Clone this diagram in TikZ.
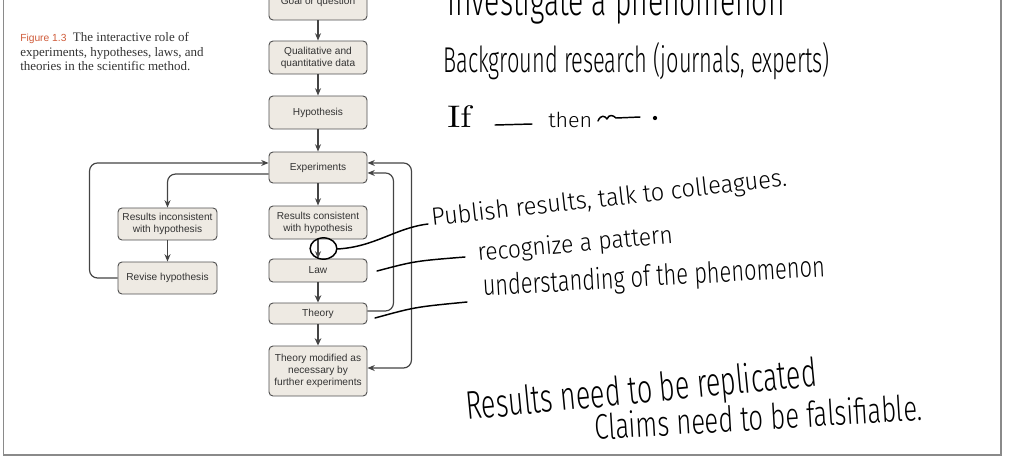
\documentclass[tikz,border=0pt]{standalone}
\usepackage{fontspec}
\setmainfont{Liberation Serif}
\setsansfont{Liberation Sans}
\IfFontExistsTF{Fira Sans Light}{\newfontfamily\handfont{Fira Sans Light}}{\newfontfamily\handfont{Liberation Sans}}
\IfFontExistsTF{Latin Modern Roman}{\newfontfamily\handserif{Latin Modern Roman}}{\newfontfamily\handserif{Liberation Serif}}
\usetikzlibrary{arrows.meta}
\definecolor{boxfill}{HTML}{EEEAE3}
\definecolor{boxdraw}{HTML}{505050}
\definecolor{linecol}{HTML}{444444}
\definecolor{figred}{HTML}{CF5B3A}
\definecolor{framecol}{HTML}{8A8A8A}
\definecolor{boxtext}{HTML}{333333}
\newcommand\hw[3]{\resizebox{#1pt}{#2pt}{\handfont #3}}
\begin{document}
\begin{tikzpicture}[x=0.75pt,y=-0.75pt,
  box/.style={draw=boxdraw, fill=boxfill, rounded corners=3pt, line width=0.7pt,
    minimum width=73.5pt, inner sep=0pt, align=center,
    font=\sffamily\fontsize{7.6}{9}\selectfont, text=boxtext},
  arr/.style={draw=linecol, line width=1.1pt, -{Stealth[length=5.5pt,width=4.5pt]}},
  thickarr/.style={draw=linecol, line width=1.6pt, -{Stealth[length=5.5pt,width=5pt]}},
  loopline/.style={draw=linecol, line width=0.9pt, rounded corners=6pt},
  hand/.style={draw=black, line width=1.1pt, line cap=round, line join=round},
  hwnode/.style={anchor=base west, inner sep=0pt},
  capline/.style={anchor=base west, inner sep=0pt, font=\fontsize{9.75}{11}\selectfont, text=boxtext}
]
\useasboundingbox (0,0) rectangle (1012,458);
% frame
\draw[framecol, line width=0.8pt] (3.5,-10) -- (3.5,455) -- (1001,455) -- (1001,-10);

% caption
\node[capline] (cap1) at (20,41.5) {{\sffamily\fontsize{7.7}{9}\selectfont\color{figred}Figure 1.3}\ \ The interactive role of};
\node[capline] (cap2) at (20,56) {experiments, hypotheses, laws, and};
\node[capline] (cap3) at (20,70.5) {theories in the scientific method.};

% boxes
\node[box, minimum height=27pt] (goal) at (318,2) {Goal or question};
\node[box, minimum height=24.75pt] (qual) at (318,57.5) {Qualitative and\\quantitative data};
\node[box, minimum height=24.75pt] (hyp) at (318,112.5) {Hypothesis};
\node[box, minimum height=23.25pt] (exp) at (318,167.5) {Experiments};
\node[box, minimum height=24.75pt] (cons) at (318,222.5) {Results consistent\\with hypothesis};
\node[box, minimum height=17.25pt] (law) at (318,270.5) {Law};
\node[box, minimum height=15.75pt] (theory) at (318,313.5) {Theory};
\node[box, minimum height=37.5pt] (mod) at (318,371) {Theory modified as\\necessary by\\further experiments};
\node[box, minimum width=74.25pt, minimum height=24pt] (inc) at (167.5,224) {Results inconsistent\\with hypothesis};
\node[box, minimum width=74.25pt, minimum height=24pt] (rev) at (167.5,278) {Revise hypothesis};

% arrows
\draw[arr] (goal) -- (qual);
\draw[arr] (qual) -- (hyp);
\draw[arr] (hyp) -- (exp);
\draw[arr] (exp) -- (cons);
\draw[arr] (cons) -- (law);
\draw[thickarr] (law) -- (theory);
\draw[thickarr] (theory) -- (mod);
\draw[arr] (inc) -- (rev);
\draw[loopline, -{Stealth[length=5.5pt,width=4.5pt]}] ([yshift=-4.9pt]exp.west) -| (inc.north);
\draw[loopline, -{Stealth[length=5.5pt,width=4.5pt]}] (rev.west) -- ++(-28,0) |- ([yshift=3.4pt]exp.west);
\draw[loopline, -{Stealth[length=5.5pt,width=4.5pt]}] ([yshift=1.9pt]theory.east) -- ++(26,0) |- ([yshift=-4.1pt]exp.east);
\draw[loopline, {Stealth[length=5.5pt,width=4.5pt]}-{Stealth[length=5.5pt,width=4.5pt]}] ([yshift=3.4pt]exp.east) -- ++(44,0) |- ([yshift=2.25pt]mod.east);

% handwriting
\node[hwnode] (t1) at (447,15) {\hw{253}{24}{Investigate a phenomenon}};
\node[hwnode] (t2) at (443,72) {\hw{290}{22.5}{Background research (journals, experts)}};
\node[hwnode] (t3a) at (447,127) {\resizebox{18pt}{16.5pt}{\handserif If}};
\node[hwnode] (t3b) at (548,127) {\hw{33}{11.5}{then}};
\node[hwnode, rotate=6.4] (t4) at (432,226) {\hw{268}{14}{Publish results, talk to colleagues.}};
\node[hwnode, rotate=5.3] (t5) at (478,261) {\hw{147}{14}{recognize a pattern}};
\node[hwnode, rotate=3.3] (t6) at (483,296) {\hw{257}{16.5}{understanding of the phenomenon}};
\node[hwnode, rotate=5.5] (t7) at (467,420) {\hw{264}{22.5}{Results need to be replicated}};
\node[hwnode, rotate=3.5] (t8) at (595,440) {\hw{246}{20}{Claims need to be falsifiable.}};

% If ___ then ~ .
\coordinate (u1) at (495,125);
\coordinate (u2) at (532,124);
\draw[hand] (u1) -- (u2);
\coordinate (s1) at (598,121);
\coordinate (s2) at (640,117);
\draw[hand] (s1) .. controls (601,114) and (605,116) .. (607,119) .. controls (609,114) and (613,115) .. (616,118) -- (s2);
\fill (655,118) circle (1.6pt);

% hand-drawn connectors
\draw[hand] (323.5,248.5) ellipse [x radius=10pt, y radius=8pt];
\coordinate (c1) at (337,249);
\coordinate (p1) at (428,224);
\draw[hand] (c1) .. controls (375,247) and (395,228) .. (p1);
\coordinate (l1) at (377,271);
\coordinate (l2) at (465,257);
\draw[hand] (l1) .. controls (415,261) .. (l2);
\coordinate (h1) at (375,318);
\coordinate (h2) at (467,302);
\draw[hand] (h1) .. controls (415,307) .. (h2);
\end{tikzpicture}
\end{document}
